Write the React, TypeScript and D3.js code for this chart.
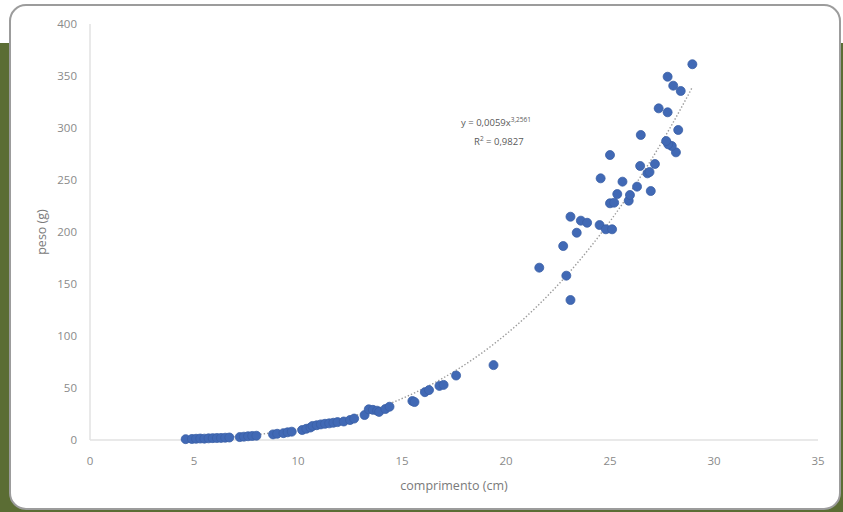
import React from "react";
import * as d3 from "d3";

const comprimento: number[] = [
  4.6, 4.9, 5.1, 5.3, 5.5, 5.7, 5.9, 6.1, 6.3, 6.5, 6.7,
  7.2, 7.4, 7.6, 7.8, 8.0, 8.8, 9.0, 9.3, 9.5, 9.7,
  10.2, 10.4, 10.6, 10.7, 10.9, 11.1, 11.3, 11.5, 11.7, 11.9,
  12.2, 12.5, 12.7, 13.2, 13.4, 13.6, 13.8, 13.9, 14.2, 14.4,
  15.5, 15.6, 16.1, 16.3, 16.8, 17.0, 17.6, 19.4,
  21.6, 22.9, 23.1, 22.75, 23.4, 23.1, 23.6, 23.9, 24.5, 24.8, 25.1, 25.0, 25.2,
  25.9, 25.96, 25.35, 24.55, 25.6, 26.3, 26.96, 26.8, 26.9, 26.45, 27.16,
  25.0, 28.17, 27.97, 27.8, 27.7, 26.48, 28.28, 27.77, 27.34, 28.4, 28.04, 27.77, 28.96,
];

const peso: number[] = [
  0.8, 1.0, 1.2, 1.4, 1.3, 1.6, 1.8, 1.9, 2.0, 2.2, 2.4,
  2.8, 3.2, 3.6, 3.9, 4.1, 5.4, 6.0, 6.6, 7.4, 8.0,
  9.6, 10.8, 12.0, 13.5, 14.2, 15.0, 15.6, 16.0, 16.6, 17.2,
  17.8, 19.2, 20.6, 24.0, 29.5, 29.0, 28.2, 27.0, 29.8, 32.0,
  37.5, 36.5, 46.0, 48.0, 52.0, 53.0, 62.0, 72.0,
  165.7, 158.0, 134.6, 186.5, 199.3, 214.7, 210.9, 208.9, 206.7, 202.6, 202.6, 227.6, 228.2,
  230.1, 235.6, 236.5, 251.6, 248.4, 243.6, 239.4, 256.4, 257.7, 263.5, 265.4,
  274.0, 276.6, 282.7, 284.3, 287.5, 293.3, 298.1, 315.1, 318.9, 335.6, 340.7, 349.3, 361.3,
];

const xTicks: number[] = [0, 5, 10, 15, 20, 25, 30, 35];
const yTicks: number[] = [0, 50, 100, 150, 200, 250, 300, 350, 400];
const coefA = 0.0059;
const coefB = 3.2561;

export default function App() {
  const W = 843, H = 512;
  const x = d3.scaleLinear().domain([0, 35]).range([90, 818]);
  const y = d3.scaleLinear().domain([0, 400]).range([440, 24]);
  const xMin = d3.min(comprimento) as number;
  const xMax = d3.max(comprimento) as number;
  const trendXs = d3.range(0, 201).map((i) => xMin + ((xMax - xMin) * i) / 200);
  const trend = d3
    .line<number>()
    .x((d) => x(d))
    .y((d) => y(coefA * Math.pow(d, coefB)));
  const font = "'Open Sans', 'Liberation Sans', sans-serif";
  const tickColor = "#8a8a8a";
  return (
    <svg width={W} height={H} style={{ position: "absolute", left: 0, top: 0 }} fontFamily={font}>
      <rect x={0} y={0} width={W} height={H} fill="#ffffff" />
      <rect x={0} y={43} width={W} height={H - 43} fill="#5b6d34" />
      <rect x={10} y={5} width={830} height={504} rx={16} ry={16} fill="#ffffff" stroke="#9c9c9c" strokeWidth={2} />
      {/* axes */}
      <line x1={x(0)} x2={x(0)} y1={y(400)} y2={y(0)} stroke="#e2e2e2" strokeWidth={1.5} />
      <line x1={x(0)} x2={x(35)} y1={y(0)} y2={y(0)} stroke="#e2e2e2" strokeWidth={1.5} />
      {yTicks.map((t) => (
        <text key={"y" + t} x={77} y={y(t)} dy="0.35em" textAnchor="end" fontSize={11.5} fill={tickColor}>
          {t}
        </text>
      ))}
      {xTicks.map((t) => (
        <text key={"x" + t} x={x(t)} y={461} dy="0.35em" textAnchor="middle" fontSize={11.5} fill={tickColor}>
          {t}
        </text>
      ))}
      <text x={454} y={486} dy="0.35em" textAnchor="middle" fontSize={12.5} fill="#7a7a7a">
        comprimento (cm)
      </text>
      <text transform="translate(42,232) rotate(-90)" dy="0.35em" textAnchor="middle" fontSize={12.5} fill="#7a7a7a">
        peso (g)
      </text>
      {/* trendline */}
      <path d={trend(trendXs) || ""} fill="none" stroke="#9a9a9a" strokeWidth={1.4} strokeDasharray="1.4 2" />
      {/* points */}
      {comprimento.map((c, i) => (
        <circle key={i} cx={x(c)} cy={y(peso[i])} r={4.5} fill="#4169b5" stroke="#3a5fa6" strokeWidth={0.8} />
      ))}
      {/* equation */}
      <text x={461} y={126} fontSize={9.5} fill="#595959">
        y = 0,0059x
        <tspan dy={-4} fontSize={6.5}>3,2561</tspan>
      </text>
      <text x={474} y={145} fontSize={9.5} fill="#595959">
        R
        <tspan dy={-4} fontSize={6.5}>2</tspan>
        <tspan dy={4}> = 0,9827</tspan>
      </text>
    </svg>
  );
}
